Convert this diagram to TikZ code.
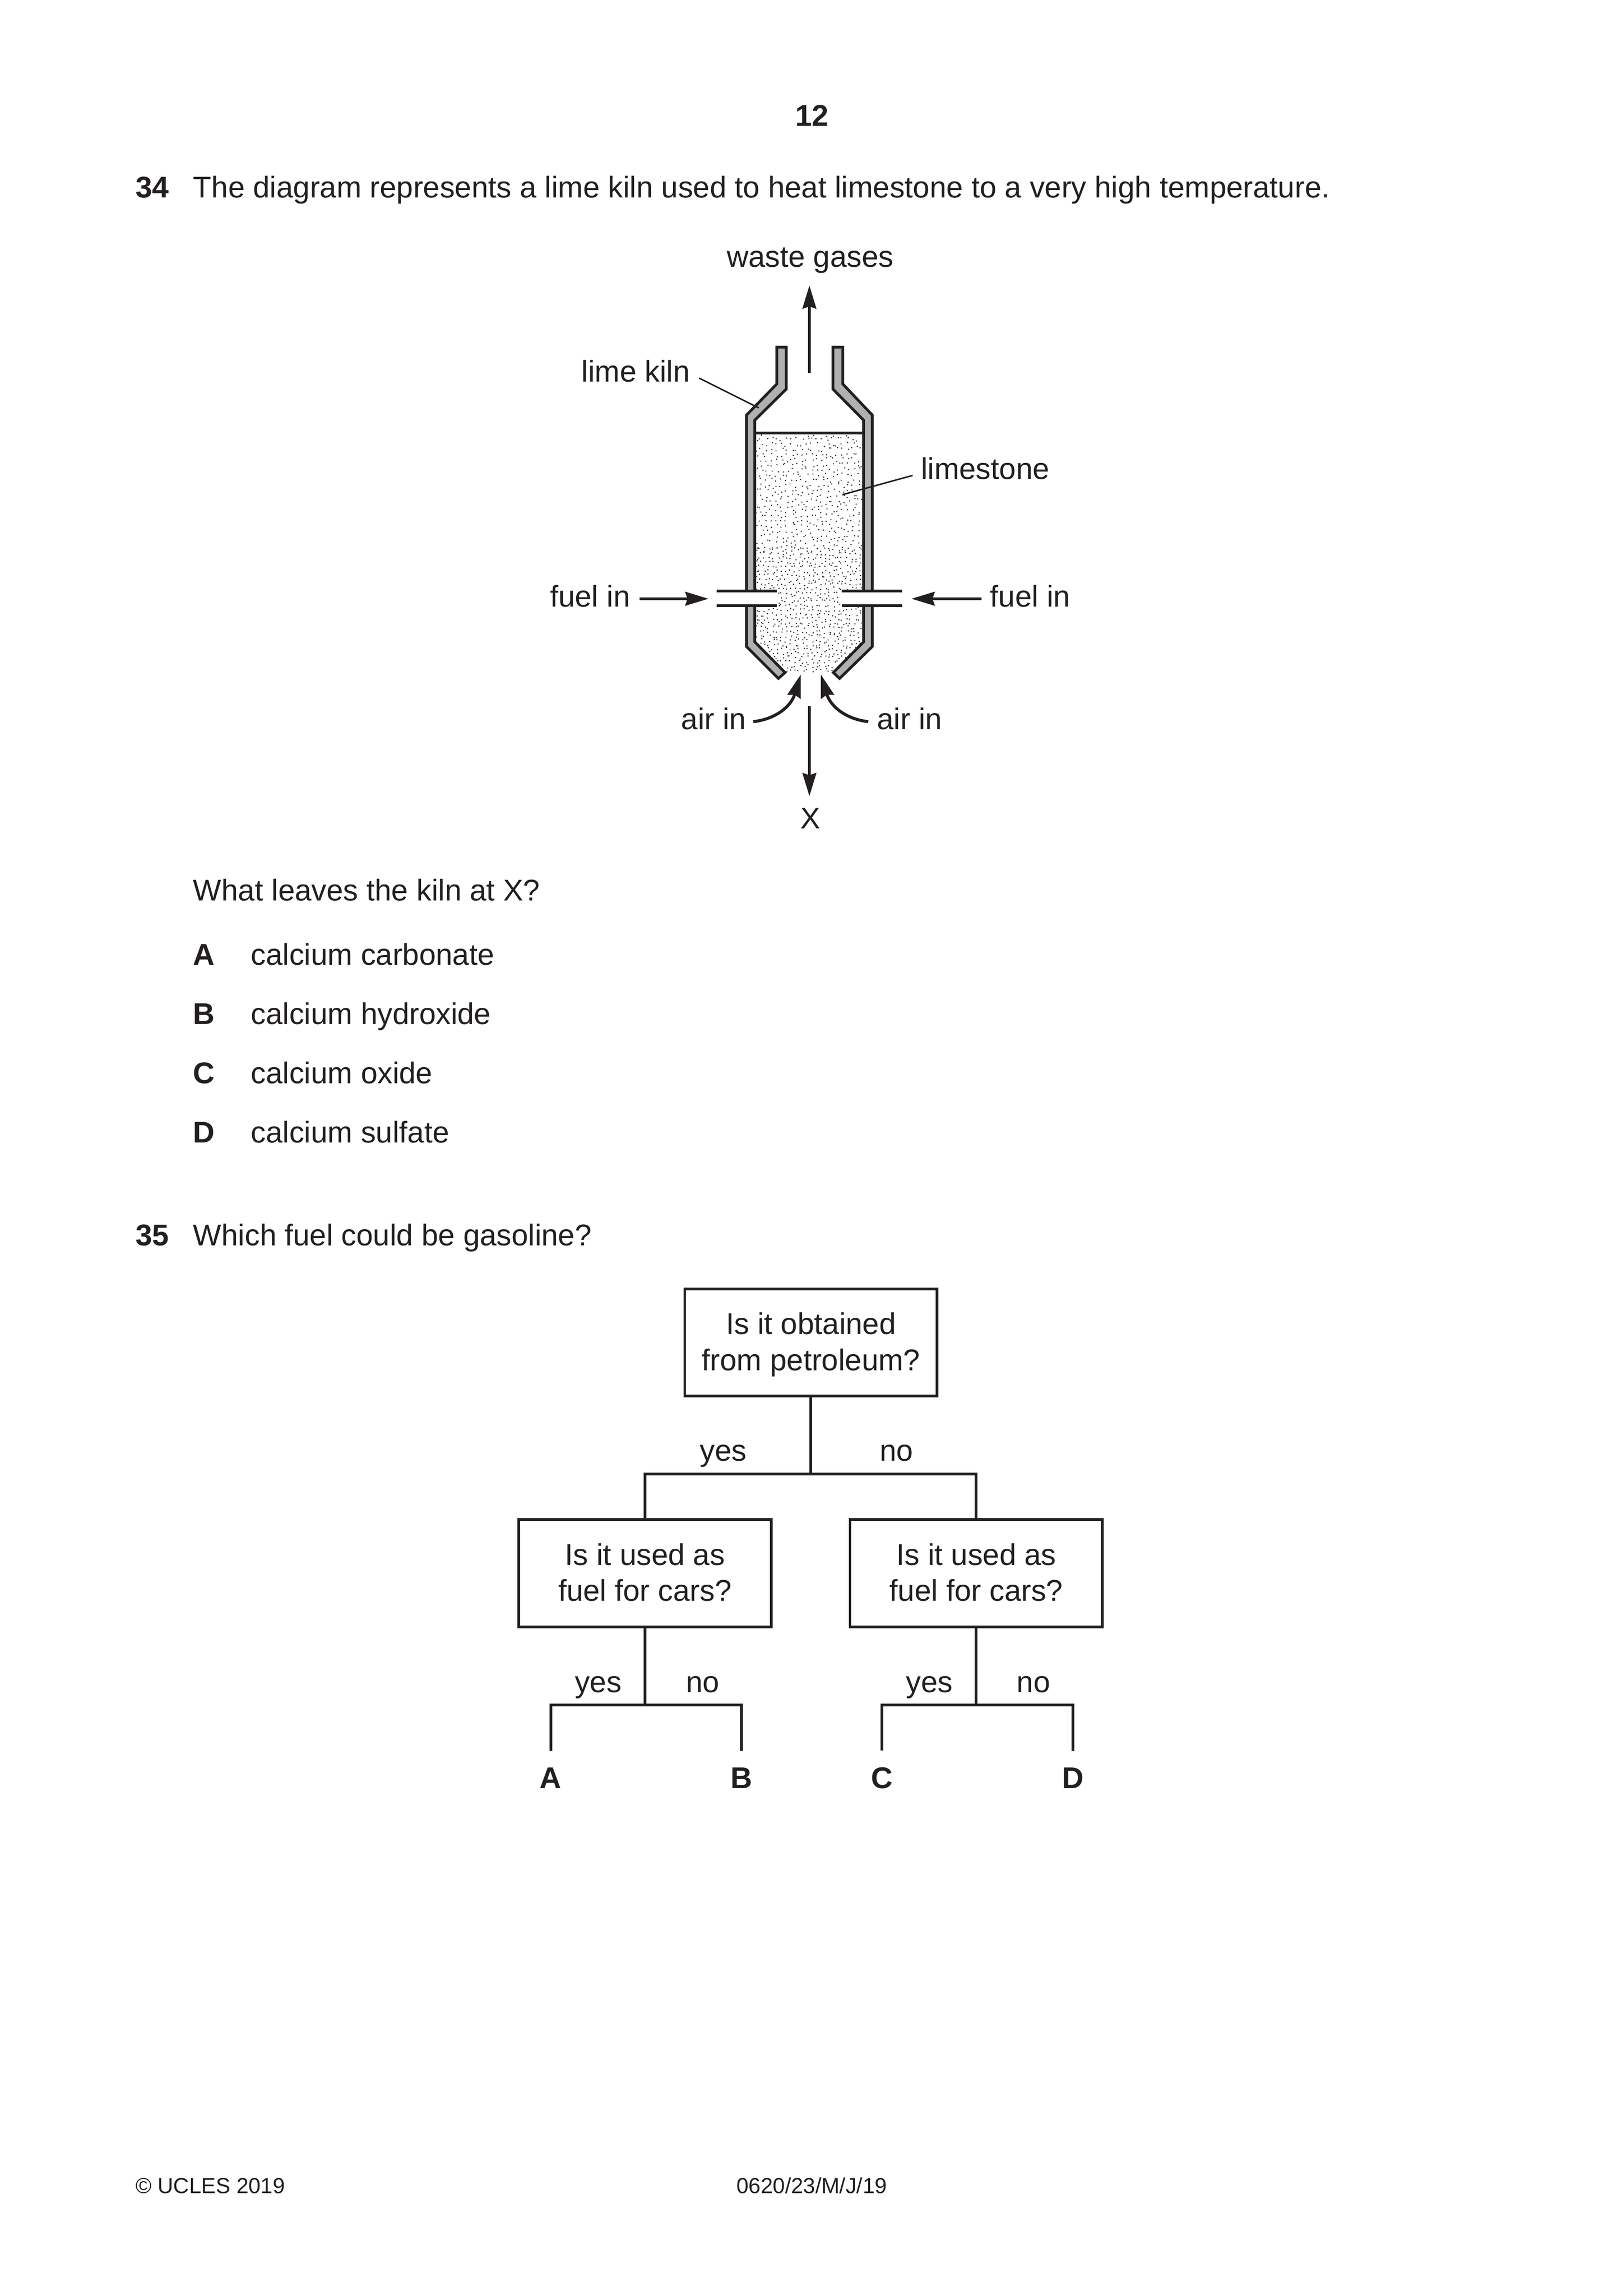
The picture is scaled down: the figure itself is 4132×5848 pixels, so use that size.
\documentclass[tikz,border=0pt]{standalone}
\usepackage{fontspec}
\setmainfont{Liberation Sans}
\usetikzlibrary{arrows.meta}
\definecolor{kilnink}{HTML}{231F20}
\definecolor{wallgrey}{HTML}{B0B0B0}
\newcommand\boxstrut{\rule[-3pt]{0pt}{13.25pt}}
\tikzset{
  lbl/.style={inner sep=0pt,font=\fontsize{11}{13.25}\selectfont},
  small/.style={inner sep=0pt,font=\fontsize{8}{10}\selectfont},
  qbox/.style={draw,line width=1pt,inner sep=0pt,align=center,minimum width=92.6pt,minimum height=39.3pt,font=\fontsize{11}{13.25}\selectfont},
  letter/.style={inner xsep=0pt,inner ysep=6pt,font=\fontsize{11}{13.25}\selectfont\bfseries},
  wall/.style={draw,fill=wallgrey,line width=1pt,miter limit=10},
  arr/.style={line width=1.1pt,-{Stealth[length=8.5pt,width=5pt,inset=0.8pt]}},
  leader/.style={line width=0.55pt},
  tree/.style={line width=1pt}
}
\begin{document}
\begin{tikzpicture}[x=0.144pt,y=-0.144pt,color=kilnink]
      \useasboundingbox (0,0) rectangle (4132,5848);
      \fill [white] (0,0) rectangle (4132,5848);
      % page text
      \node [lbl,anchor=base] (page) at (2069,321) {\bfseries 12};
      \node [lbl,anchor=base west] (qa) at (344,504) {\bfseries 34};
      \node [lbl,anchor=base west] (qatext) at (491,504) {The diagram represents a lime kiln used to heat limestone to a very high temperature.};
      \node [lbl,anchor=base west] (askx) at (491,2294) {What leaves the kiln at X?};
      \foreach \nm/\ypos/\ltr/\txt in {a/2458/A/calcium carbonate,b/2609/B/calcium hydroxide,c/2760/C/calcium oxide,d/2911/D/calcium sulfate} {
        \node [lbl,anchor=base west] (opt\nm) at (491,\ypos) {\bfseries \ltr};
        \node [lbl,anchor=base west] (opttext\nm) at (638,\ypos) {\txt};
      }
      \node [lbl,anchor=base west] (qb) at (344,3173) {\bfseries 35};
      \node [lbl,anchor=base west] (qbtext) at (491,3173) {Which fuel could be gasoline?};
      \node [small,anchor=base west] (copy) at (344,5586) {© UCLES 2019};
      \node [small,anchor=base] (code) at (2068,5586) {0620/23/M/J/19};

      % limestone
      \begin{scope}
        \clip (1926,1106) -- (2197,1106) -- (2197,1635) -- (2120,1713) -- (2003,1713) -- (1926,1635) -- cycle;
        \pgfmathsetseed{34}
        \fill foreach \x in {1926,1939,...,2200} {foreach \y in {1106,1119,...,1400} {({\x+5.5*rand},{\y+5.5*rand}) circle [radius=0.26pt]}};
        \fill foreach \x in {1926,1937,...,2200} {foreach \y in {1400,1411,...,1720} {({\x+4.5*rand},{\y+4.5*rand}) circle [radius=0.26pt]}};
      \end{scope}

      % kiln walls
      \draw [wall] (1979,884) -- (2003,884) -- (2003,991) -- (1923,1070) -- (1923,1635) -- (2000,1713) -- (1983,1728) -- (1902,1647) -- (1902,1057) -- (1979,978) -- cycle;
      \draw [wall] (2147,884) -- (2122,884) -- (2122,991) -- (2200,1070) -- (2200,1635) -- (2123,1713) -- (2139,1728) -- (2222,1647) -- (2222,1057) -- (2147,978) -- cycle;
      \draw [line width=1pt] (1923,1103) -- (2200,1103);

      % fuel pipes
      \fill [white] (1826,1505) rectangle (1979,1543);
      \fill [white] (2145,1505) rectangle (2298,1543);
      \draw [line width=1pt] (1826,1505) -- (1979,1505);
      \draw [line width=1pt] (1826,1543) -- (1979,1543);
      \draw [line width=1pt] (2145,1505) -- (2298,1505);
      \draw [line width=1pt] (2145,1543) -- (2298,1543);

      % labels on the kiln
      \node [lbl,anchor=base] (waste) at (2064,680) {waste gases};
      \node [lbl,anchor=base east] (kilnlabel) at (1759,972) {lime kiln};
      \node [lbl,anchor=base west] (stonelabel) at (2345,1220) {limestone};
      \node [lbl,anchor=base west] (fuelleft) at (1400,1546) {fuel in};
      \node [lbl,anchor=base west] (fuelright) at (2521,1546) {fuel in};
      \node [lbl,anchor=base west] (airleft) at (1734,1858) {air in};
      \node [lbl,anchor=base west] (airright) at (2233,1858) {air in};
      \node [lbl,anchor=base] (xlabel) at (2065,2110) {X};

      \coordinate (wastefrom) at (2062,950);
      \coordinate (wasteto) at (2062,727);
      \coordinate (kilnfrom) at (1781,963);
      \coordinate (kilnto) at (1933,1039);
      \coordinate (stonefrom) at (2325,1211);
      \coordinate (stoneto) at (2146,1260);
      \coordinate (fuelafrom) at (1629,1525);
      \coordinate (fuelato) at (1805,1525);
      \coordinate (fuelbfrom) at (2500,1525);
      \coordinate (fuelbto) at (2322,1525);
      \coordinate (airafrom) at (1919,1838);
      \coordinate (airato) at (2040,1718);
      \coordinate (airbfrom) at (2212,1838);
      \coordinate (airbto) at (2091,1718);
      \coordinate (xfrom) at (2062,1799);
      \coordinate (xto) at (2062,2028);

      \draw [arr] (wastefrom) -- (wasteto);
      \draw [leader] (kilnfrom) -- (kilnto);
      \draw [leader] (stonefrom) -- (stoneto);
      \draw [arr] (fuelafrom) -- (fuelato);
      \draw [arr] (fuelbfrom) -- (fuelbto);
      \draw [arr] (airafrom) .. controls (1975,1832) and (2015,1800) .. (airato);
      \draw [arr] (airbfrom) .. controls (2156,1832) and (2116,1800) .. (airbto);
      \draw [arr] (xfrom) -- (xto);

      % flow chart
      \node [qbox] (petrol) at (2066,3419) {\boxstrut Is it obtained\\\boxstrut from petroleum?};
      \node [qbox] (carsleft) at (1643,4007) {\boxstrut Is it used as\\\boxstrut fuel for cars?};
      \node [qbox] (carsright) at (2487,4007) {\boxstrut Is it used as\\\boxstrut fuel for cars?};
      \node [letter,anchor=base] (letA) at (1403,4555) {A};
      \node [letter,anchor=base] (letB) at (1889,4555) {B};
      \node [letter,anchor=base] (letC) at (2247,4555) {C};
      \node [letter,anchor=base] (letD) at (2733,4555) {D};
      \coordinate (forktop) at (2066,3754);
      \coordinate (forkleft) at (1643,4343);
      \coordinate (forkright) at (2487,4343);
      \draw [tree] (petrol.south) -- (forktop);
      \draw [tree] (carsleft.north) |- (forktop) -| (carsright.north);
      \draw [tree] (carsleft.south) -- (forkleft);
      \draw [tree] (letA.north) |- (forkleft) -| (letB.north);
      \draw [tree] (carsright.south) -- (forkright);
      \draw [tree] (letC.north) |- (forkright) -| (letD.north);
      \node [lbl,anchor=base] (yestop) at (1843,3721) {yes};
      \node [lbl,anchor=base] (notop) at (2284,3721) {no};
      \node [lbl,anchor=base] (yesa) at (1524,4311) {yes};
      \node [lbl,anchor=base] (noa) at (1790,4311) {no};
      \node [lbl,anchor=base] (yesb) at (2368,4311) {yes};
      \node [lbl,anchor=base] (nob) at (2633,4311) {no};
    \end{tikzpicture}
\end{document}
